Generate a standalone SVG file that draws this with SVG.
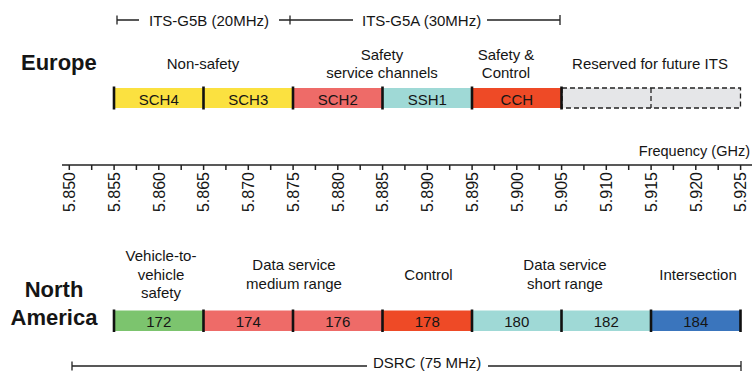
<svg xmlns="http://www.w3.org/2000/svg" width="752" height="371" viewBox="0 0 752 371">
<style>
text{font-family:"Liberation Sans",Arial,Helvetica,sans-serif;fill:#151515}
.lbl{font-size:15px;text-anchor:middle}
.ch{font-size:15px;text-anchor:middle}
.reg{font-size:22px;font-weight:bold}
.tk{font-size:16px;text-anchor:end}
.ln{stroke:#222;stroke-width:1.3;fill:none}
.dv{stroke:#111;stroke-width:2.6}
.ax{stroke:#222;stroke-width:1.5;fill:none}
.yel{fill:#fbe140}.red{fill:#ee6b68}.teal{fill:#9fd9d6}.org{fill:#ee4a26}
.grn{fill:#7cc46e}.blu{fill:#3a75bd}
.res{fill:#e5e6e8;stroke:#222;stroke-width:1.3;stroke-dasharray:5 3}
</style>

<!-- Top ITS brackets and DSRC bracket -->
<g id="connectors">
  <path class="ln" d="M117,15.5V24.5M117,20H139M279,20H353M290,15.5V24.5M487,20H560M560,15V25"/>
  <path class="ln" d="M72,361.5V370.5M72,366H367M488,366H741M741,361V371"/>
</g>
<g id="its-labels">
  <text x="149" y="26" style="font-size:15px">ITS-G5B (20MHz)</text>
  <text x="362" y="26" style="font-size:15px">ITS-G5A (30MHz)</text>
  <text x="373" y="367.5" style="font-size:15px">DSRC (75 MHz)</text>
</g>

<!-- Europe -->
<g id="europe">
  <text class="reg" x="21" y="70">Europe</text>
  <text class="lbl" x="203" y="68.5">Non-safety</text>
  <text class="lbl" x="382" y="60">Safety</text>
  <text class="lbl" x="382" y="77.5">service channels</text>
  <text class="lbl" x="506" y="60">Safety &amp;</text>
  <text class="lbl" x="506" y="77.5">Control</text>
  <text class="lbl" x="650" y="68.5">Reserved for future ITS</text>
</g>
<g id="eu-sch4"><rect class="yel" x="114" y="88" width="89.5" height="20"/><text class="ch" x="158.8" y="104.7">SCH4</text></g>
<g id="eu-sch3"><rect class="yel" x="203.5" y="88" width="89.5" height="20"/><text class="ch" x="248.3" y="104.7">SCH3</text></g>
<g id="eu-sch2"><rect class="red" x="293" y="88" width="89.5" height="20"/><text class="ch" x="337.8" y="104.7">SCH2</text></g>
<g id="eu-ssh1"><rect class="teal" x="382.5" y="88" width="89.5" height="20"/><text class="ch" x="427.3" y="104.7">SSH1</text></g>
<g id="eu-cch"><rect class="org" x="472" y="88" width="89.5" height="20"/><text class="ch" x="516.8" y="104.7">CCH</text></g>
<g id="eu-reserved">
  <rect class="res" x="562" y="88" width="178.5" height="20"/>
  <line class="res" x1="651" y1="88" x2="651" y2="108"/>
</g>
<g id="eu-dividers">
  <path class="dv" d="M114,86.5V109.5M203.5,86.5V109.5M293,86.5V109.5M382.5,86.5V109.5M472,86.5V109.5M561.5,86.5V109.5"/>
</g>

<!-- Axis -->
<g id="axis">
  <line class="ax" x1="62" y1="165" x2="752" y2="165"/>
  <path class="ax" d="M69.3,165v5M91.7,165v5M114.1,165v5M136.4,165v5M158.8,165v5M181.2,165v5M203.6,165v5M225.9,165v5M248.3,165v5M270.7,165v5M293.1,165v5M315.4,165v5M337.8,165v5M360.2,165v5M382.6,165v5M404.9,165v5M427.3,165v5M449.7,165v5M472.1,165v5M494.4,165v5M516.8,165v5M539.2,165v5M561.6,165v5M583.9,165v5M606.3,165v5M628.7,165v5M651.1,165v5M673.4,165v5M695.8,165v5M718.2,165v5M740.6,165v5"/>
  <text x="750" y="156" style="font-size:14.5px;text-anchor:end">Frequency (GHz)</text>
  <text class="tk" transform="translate(75.1,172) rotate(-90)">5.850</text>
  <text class="tk" transform="translate(119.9,172) rotate(-90)">5.855</text>
  <text class="tk" transform="translate(164.6,172) rotate(-90)">5.860</text>
  <text class="tk" transform="translate(209.4,172) rotate(-90)">5.865</text>
  <text class="tk" transform="translate(254.1,172) rotate(-90)">5.870</text>
  <text class="tk" transform="translate(298.9,172) rotate(-90)">5.875</text>
  <text class="tk" transform="translate(343.6,172) rotate(-90)">5.880</text>
  <text class="tk" transform="translate(388.4,172) rotate(-90)">5.885</text>
  <text class="tk" transform="translate(433.1,172) rotate(-90)">5.890</text>
  <text class="tk" transform="translate(477.9,172) rotate(-90)">5.895</text>
  <text class="tk" transform="translate(522.6,172) rotate(-90)">5.900</text>
  <text class="tk" transform="translate(567.4,172) rotate(-90)">5.905</text>
  <text class="tk" transform="translate(612.1,172) rotate(-90)">5.910</text>
  <text class="tk" transform="translate(656.9,172) rotate(-90)">5.915</text>
  <text class="tk" transform="translate(701.6,172) rotate(-90)">5.920</text>
  <text class="tk" transform="translate(746.4,172) rotate(-90)">5.925</text>
</g>

<!-- North America -->
<g id="north-america">
  <text class="reg" x="54" y="297" text-anchor="middle">North</text>
  <text class="reg" x="54" y="325" text-anchor="middle">America</text>
  <text class="lbl" x="161" y="260.5">Vehicle-to-</text>
  <text class="lbl" x="161" y="280">vehicle</text>
  <text class="lbl" x="161" y="298">safety</text>
  <text class="lbl" x="294" y="270">Data service</text>
  <text class="lbl" x="294" y="288.5">medium range</text>
  <text class="lbl" x="428.5" y="280">Control</text>
  <text class="lbl" x="565" y="270">Data service</text>
  <text class="lbl" x="565" y="288.5">short range</text>
  <text class="lbl" x="698" y="280">Intersection</text>
</g>
<g id="na-172"><rect class="grn" x="114" y="310.5" width="89.5" height="20.5"/><text class="ch" x="158.8" y="326.5">172</text></g>
<g id="na-174"><rect class="red" x="203.5" y="310.5" width="89.5" height="20.5"/><text class="ch" x="248.3" y="326.5">174</text></g>
<g id="na-176"><rect class="red" x="293" y="310.5" width="89.5" height="20.5"/><text class="ch" x="337.8" y="326.5">176</text></g>
<g id="na-178"><rect class="org" x="382.5" y="310.5" width="89.5" height="20.5"/><text class="ch" x="427.3" y="326.5">178</text></g>
<g id="na-180"><rect class="teal" x="472" y="310.5" width="89.5" height="20.5"/><text class="ch" x="516.8" y="326.5">180</text></g>
<g id="na-182"><rect class="teal" x="561.5" y="310.5" width="89.5" height="20.5"/><text class="ch" x="606.3" y="326.5">182</text></g>
<g id="na-184"><rect class="blu" x="651" y="310.5" width="89.5" height="20.5"/><text class="ch" x="695.8" y="326.5">184</text></g>
<g id="na-dividers">
  <path class="dv" d="M114,309.5V332M203.5,309.5V332M293,309.5V332M382.5,309.5V332M472,309.5V332M561.5,309.5V332M651,309.5V332M740.5,309.5V332"/>
</g>
</svg>
